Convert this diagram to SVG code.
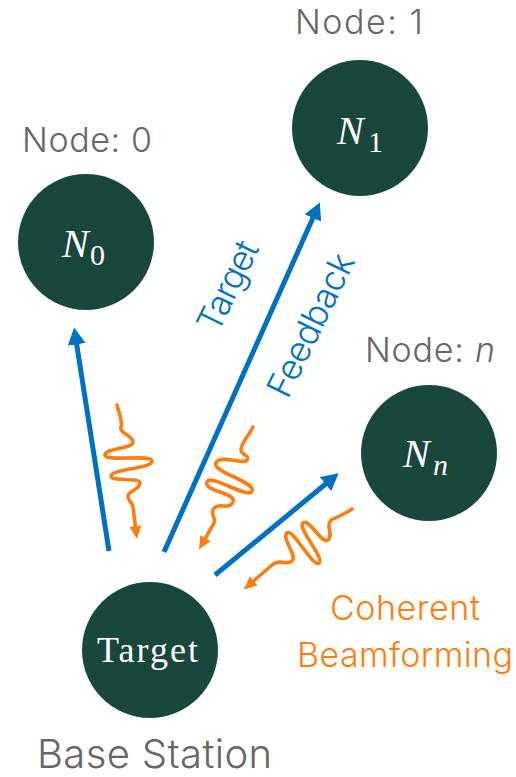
<svg xmlns="http://www.w3.org/2000/svg" width="516" height="777" viewBox="0 0 516 777">
  <style>
    .node { fill: #19473d; }
    .label { font-family: "Inter", "Liberation Sans", sans-serif; font-weight: 300; fill: #666666; }
    .math { font-family: "Liberation Serif", "DejaVu Serif", serif; font-style: italic; fill: #ffffff; }
    .sub { font-family: "Liberation Serif", "DejaVu Serif", serif; font-style: normal; fill: #ffffff; }
    .serif { font-family: "Liberation Serif", "DejaVu Serif", serif; fill: #ffffff; }
    .link { stroke: #0070c0; stroke-width: 5; fill: none; marker-end: url(#blueHead); }
    .wave { stroke: #fa7e14; stroke-width: 3.6; fill: none; stroke-linecap: round; stroke-linejoin: round; marker-end: url(#orangeHead); }
    .blueText { font-family: "Inter", "Liberation Sans", sans-serif; font-weight: 300; fill: #0070c0; }
    .orangeText { font-family: "Inter", "Liberation Sans", sans-serif; font-weight: 300; fill: #fa7e14; }
  </style>
  <defs>
    <marker id="blueHead" viewBox="0 0 17 18" refX="0.5" refY="9" markerWidth="17" markerHeight="18" markerUnits="userSpaceOnUse" orient="auto">
      <path d="M0,0 L17,9 L0,18 z" fill="#0070c0"/>
    </marker>
    <marker id="orangeHead" viewBox="0 0 13 12" refX="1" refY="6" markerWidth="13" markerHeight="12" markerUnits="userSpaceOnUse" orient="auto">
      <path d="M0,0 L13,6 L0,12 z" fill="#fa7e14"/>
    </marker>
  </defs>

  <rect width="516" height="777" fill="#ffffff"/>

  <!-- connectors: uplinks and backscattered waves -->
  <g id="connectors">
    <line class="link" x1="109" y1="551" x2="76.6" y2="343.8"/>
    <line class="link" x1="164" y1="552" x2="313.1" y2="217.5"/>
    <line class="link" x1="215" y1="575" x2="325.9" y2="483.8"/>

    <path class="wave" d="M117,405 C119,414 123,420 121,427 C119,433 133,436 133,442 C133,449 105,448 105,455 C105,462 152,454 152,461 C152,469 111,469 111,476 C111,482 140,477 140,483 C140,490 127,491 128,497 C129,502 133,503 133,507 L135.5,527"/>
    <path class="wave" d="M253,427 C248,437 241,443 241,450 C241,455 250,455 247,460 C244,465 220,454 216,463 C212,472 256,482 252,491 C248,500 211,473 207,482 C203,491 237,493 233,502 C229,511 217,501 213,510 C211,515 216,518 214,523 L205,539"/>
    <path class="wave" d="M352,509 C345,514 339,516 331,520 C325,526 334,535 328,540 C322,545 309,518 303,523 C297,528 325,558 319,563 C313,568 293,528 287,533 C281,538 298,556 292,561 C286,566 280,558 272,565 L252.9,581.6"/>
  </g>

  <!-- link labels -->
  <g id="link-labels">
    <text class="blueText" font-size="35" text-anchor="middle" textLength="96" lengthAdjust="spacing" transform="translate(228,286) rotate(-64)" y="12">Target</text>
    <text class="blueText" font-size="35" text-anchor="middle" textLength="155" lengthAdjust="spacing" transform="translate(311,325) rotate(-64)" y="12">Feedback</text>
    <text class="orangeText" font-size="34" x="330" y="620" textLength="150" lengthAdjust="spacing">Coherent</text>
    <text class="orangeText" font-size="34" x="297" y="667" textLength="216" lengthAdjust="spacing">Beamforming</text>
  </g>

  <g id="node-0">
    <text class="label" font-size="34" x="22" y="152" textLength="130" lengthAdjust="spacing">Node: 0</text>
    <circle class="node" cx="86" cy="242" r="68"/>
    <text class="math" font-size="40" x="62" y="257">N</text>
    <text class="sub" font-size="30" x="90" y="265">0</text>
  </g>

  <g id="node-1">
    <text class="label" font-size="34" x="295" y="34" textLength="128" lengthAdjust="spacing">Node: 1</text>
    <circle class="node" cx="360" cy="128" r="68"/>
    <text class="math" font-size="40" x="337" y="144">N</text>
    <text class="sub" font-size="30" x="368" y="152">1</text>
  </g>

  <g id="node-n">
    <text class="label" font-size="34" x="365" y="362" textLength="130" lengthAdjust="spacing">Node: <tspan font-style="italic">n</tspan></text>
    <circle class="node" cx="429" cy="453" r="68"/>
    <text class="math" font-size="40" x="403" y="467">N</text>
    <text class="math" font-size="30" x="433" y="475">n</text>
  </g>

  <g id="base-station">
    <circle class="node" cx="150" cy="650" r="68"/>
    <text class="serif" font-size="36" x="97" y="662" textLength="101" lengthAdjust="spacing">Target</text>
    <text class="label" font-size="40" x="37" y="768" textLength="235" lengthAdjust="spacing">Base Station</text>
  </g>
</svg>
